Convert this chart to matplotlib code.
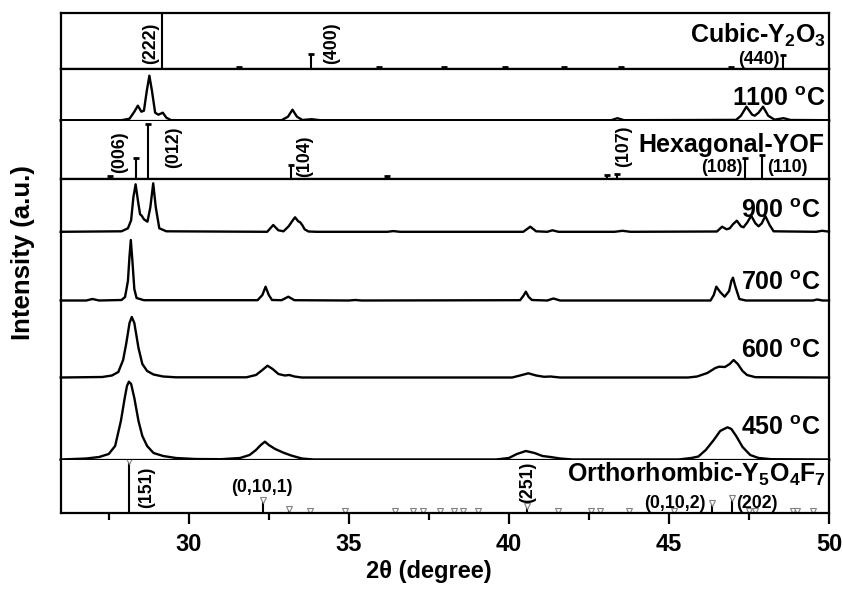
import numpy as np
import matplotlib
matplotlib.use("Agg")
import matplotlib.pyplot as plt

plt.rcParams['font.family'] = ['Liberation Sans', 'DejaVu Sans']
plt.rcParams['font.weight'] = 'bold'
plt.rcParams['mathtext.fontset'] = 'custom'
plt.rcParams['mathtext.rm'] = 'Liberation Sans:bold'
plt.rcParams['mathtext.it'] = 'Liberation Sans:bold'
plt.rcParams['mathtext.bf'] = 'Liberation Sans:bold'

# ---- measured patterns (2theta, intensity a.u.) ----
tt_1100 = [26.0, 27.9, 28.15, 28.3, 28.41, 28.52, 28.6, 28.69, 28.77, 28.85, 28.95, 29.05, 29.19, 29.3, 29.45,
           32.9, 33.1, 33.24, 33.38, 33.55, 33.84, 34.1, 43.2, 43.39, 43.6, 47.1, 47.25, 47.42, 47.6, 47.68,
           47.8, 47.94, 48.1, 48.3, 48.58, 48.8, 50.0]
I_1100 = [0.5, 0.5, 2, 9, 15, 9, 10, 30, 45, 30, 8, 6, 8, 3, 0.5,
          0.5, 4, 11, 4, 0.7, 1.5, 0.5, 0.5, 2.5, 0.5, 0.8, 5, 14, 6, 5,
          8, 14, 5, 1, 2.5, 0.7, 0.5]

tt_900 = [26.0, 27.9, 28.1, 28.2, 28.27, 28.34, 28.42, 28.48, 28.53, 28.6, 28.71, 28.8, 28.89, 28.97, 29.08,
          29.3, 32.45, 32.64, 32.8, 32.96, 33.12, 33.25, 33.32, 33.42, 33.48, 33.55, 33.62, 33.74, 34.0,
          36.2, 36.39, 36.6, 40.45, 40.67, 40.85, 41.2, 41.36, 41.55, 43.3, 43.55, 43.8, 46.5, 46.66, 46.8,
          46.9, 47.0, 47.12, 47.25, 47.33, 47.45, 47.57, 47.7, 47.8, 47.9, 48.01, 48.15, 48.27, 49.6, 49.78, 50.0]
I_900 = [0.5, 1, 4, 12, 35, 48, 30, 18, 16.6, 13, 10.6, 25, 49, 25, 4,
         1, 0.5, 7.3, 2, 1, 6, 12, 15, 11, 10, 7, 3, 0.8, 0.5,
         0.5, 1.2, 0.5, 0.5, 5.6, 1, 0.5, 2, 0.5, 0.5, 1.5, 0.5, 0.8, 5.6, 3,
         4, 8, 11.6, 6, 5, 10, 16.6, 9, 6, 9, 16.3, 7, 1, 0.5, 1.5, 0.7]

tt_700 = [26.0, 26.8, 26.99, 27.2, 27.9, 28.01, 28.1, 28.15, 28.19, 28.24, 28.3, 28.37, 28.6, 32.15, 32.3,
          32.4, 32.5, 32.6, 32.9, 33.11, 33.3, 35.0, 35.2, 35.4, 40.35, 40.45, 40.53, 40.62, 40.72, 41.2,
          41.39, 41.6, 46.3, 46.4, 46.48, 46.6, 46.74, 46.88, 46.95, 47.0, 47.07, 47.2, 47.4, 49.5, 49.63,
          49.8, 50.0]
I_700 = [0.5, 0.5, 2, 0.5, 1, 4, 20, 45, 61, 40, 12, 3, 0.8, 0.8, 6,
         14.3, 6, 1, 0.8, 4.3, 0.8, 0.5, 1, 0.5, 0.8, 5, 9.3, 4, 1, 0.5,
         2.5, 0.5, 0.5, 6, 14.3, 9, 4.3, 10, 20, 23.3, 15, 2, 0.5, 0.5, 1.5,
         0.5, 0.5]

tt_600 = [26.0, 27.3, 27.6, 27.8, 27.95, 28.05, 28.15, 28.22, 28.3, 28.43, 28.55, 28.7, 28.9, 29.2, 29.6,
          31.8, 32.1, 32.3, 32.46, 32.62, 32.8, 33.0, 33.14, 33.3, 33.53, 33.9, 40.1, 40.35, 40.61, 40.85,
          41.1, 41.3, 41.6, 45.6, 45.88, 46.2, 46.45, 46.57, 46.75, 46.9, 47.02, 47.15, 47.3, 47.44, 47.7, 50.0]
I_600 = [0.5, 1, 2.5, 6, 18, 35, 55, 61, 55, 30, 14, 7, 3.5, 1.5, 0.7,
         0.7, 3, 8, 12.3, 9, 4, 2.5, 3, 1.5, 0.5, 0.5, 0.5, 2.5, 4.7, 2.5,
         1.2, 1.5, 0.5, 0.5, 1.5, 5, 10, 11.3, 11, 14, 18, 14, 7, 3, 0.8, 0.5]

tt_450 = [26.0, 26.8, 27.2, 27.5, 27.7, 27.88, 28.0, 28.07, 28.13, 28.2, 28.3, 28.43, 28.55, 28.7, 28.9,
          29.2, 29.6, 30.2, 31.0, 31.6, 31.9, 32.1, 32.25, 32.38, 32.5, 32.7, 32.96, 33.2, 33.53, 33.9,
          39.6, 40.0, 40.25, 40.53, 40.8, 41.05, 41.3, 41.6, 42.0, 45.3, 45.7, 45.92, 46.15, 46.4, 46.6,
          46.72, 46.83, 46.95, 47.1, 47.3, 47.54, 47.8, 48.2, 50.0]
I_450 = [0.5, 1.5, 3, 6, 14, 39, 62, 74, 78.3, 76, 62, 39, 24, 14, 7,
         4, 2, 1, 0.8, 2, 5, 10, 15, 18.3, 15, 11, 7.3, 4.5, 1.5, 0.5,
         0.5, 2, 6, 9, 7, 4, 3, 1.5, 0.5, 0.5, 2, 3.5, 10, 20, 29,
         31, 32.7, 31, 24, 13, 5, 2, 0.8, 0.5]

# vertical offsets of the stacked patterns in the main panel
offsets = {'900': 227.7, '700': 159, '600': 82, '450': 0}

# ---- reference patterns ----
cubic_pos = [29.17, 31.56, 33.81, 35.93, 37.96, 39.88, 41.73, 43.51, 46.94, 48.56]
cubic_int = [56, 2, 15, 2, 2, 2, 2, 2, 2, 14]

hex_pos = [27.54, 28.34, 28.74, 33.2, 36.2, 43.06, 43.38, 47.38, 47.9]
hex_int = [3, 21, 55, 14, 3, 4, 5, 21, 24]

ortho_pos = [28.12, 32.32, 33.14, 33.79, 34.88, 36.45, 37.02, 37.33, 37.85, 38.3, 38.58, 39.02, 40.56,
             41.52, 42.57, 42.85, 43.74, 45.15, 46.36, 46.97, 47.49, 47.7, 48.89, 49.0, 49.5]
ortho_int = [52, 13, 4, 2, 2, 2, 2, 2, 2, 2, 2, 2, 7,
             2, 2, 2, 2, 2, 10, 15, 2, 2, 2, 2, 2]

W_PX, H_PX = 843, 589
L_PX, R_PX = 60.7, 829
fig = plt.figure(figsize=(W_PX / 100, H_PX / 100), dpi=100)


def panel(top, bot):
    ax = fig.add_axes([L_PX / W_PX, 1 - bot / H_PX, (R_PX - L_PX) / W_PX, (bot - top) / H_PX])
    ax.set_xlim(26, 50)
    ax.set_ylim(0, bot - top)
    ax.tick_params(left=False, bottom=False, labelleft=False, labelbottom=False)
    for s in ax.spines.values():
        s.set_linewidth(1.6)
    return ax


ax_cub = panel(13.3, 69.3)
ax_1100 = panel(69.3, 120.7)
ax_hex = panel(120.7, 179.3)
ax_main = panel(179.3, 460)
ax_ort = panel(460, 513.3)
ax_hex.spines['top'].set_visible(False)
ax_ort.spines['top'].set_visible(False)

lw = 1.7
lab = dict(fontsize=18, fontweight='bold', ha='right', va='baseline')
ann = dict(fontsize=12.8, fontweight='bold')

# cubic Y2O3
ax_cub.vlines(cubic_pos, 0, cubic_int, color='k', lw=1.5)
ax_cub.plot(cubic_pos[1:], cubic_int[1:], ls='none', marker='_', ms=4, mew=2, color='k')
ax_cub.text(49.9, 26.6, r'Cubic-Y$_2$O$_3$', **lab)
ax_cub.text(28.81, 25.8, '(222)', rotation=90, ha='center', va='center', **ann)
ax_cub.text(34.47, 26.3, '(400)', rotation=90, ha='center', va='center', **ann)
ax_cub.text(47.8, 5.0, '(440)', ha='center', va='baseline', **ann)

# 1100 C
ax_1100.plot(tt_1100, I_1100, color='k', lw=lw, clip_on=False)
ax_1100.text(49.88, 15, r'1100 $^{\mathrm{o}}$C', **lab)

# hexagonal YOF
ax_hex.vlines(hex_pos, 0, hex_int, color='k', lw=1.5)
ax_hex.plot(hex_pos, hex_int, ls='none', marker='_', ms=4, mew=2, color='k')
ax_hex.text(49.85, 27.6, 'Hexagonal-YOF', **lab)
ax_hex.text(27.85, 27.6, '(006)', rotation=90, ha='center', va='center', **ann)
ax_hex.text(29.52, 32.3, '(012)', rotation=90, ha='center', va='center', **ann)
ax_hex.text(33.63, 23.3, '(104)', rotation=90, ha='center', va='center', **ann)
ax_hex.text(43.58, 33.3, '(107)', rotation=90, ha='center', va='center', **ann)
ax_hex.text(46.66, 7.0, '(108)', ha='center', va='baseline', **ann)
ax_hex.text(48.69, 7.0, '(110)', ha='center', va='baseline', **ann)

# main stacked patterns
for key, tt, inten in [('900', tt_900, I_900), ('700', tt_700, I_700),
                       ('600', tt_600, I_600), ('450', tt_450, I_450)]:
    ax_main.plot(tt, np.array(inten) + offsets[key], color='k', lw=lw, clip_on=False)
ax_main.text(49.75, 241.7, r'900 $^{\mathrm{o}}$C', **lab)
ax_main.text(49.75, 170, r'700 $^{\mathrm{o}}$C', **lab)
ax_main.text(49.75, 101.7, r'600 $^{\mathrm{o}}$C', **lab)
ax_main.text(49.75, 25, r'450 $^{\mathrm{o}}$C', **lab)

# orthorhombic Y5O4F7
ax_ort.vlines(ortho_pos, 0, ortho_int, color='k', lw=1.5)
ax_ort.plot(ortho_pos, ortho_int, ls='none', marker='v', ms=4, mfc='white', mec='gray', mew=0.8)
ax_ort.text(49.9, 31, r'Orthorhombic-Y$_5$O$_4$F$_7$', **lab)
ax_ort.text(28.69, 25.8, '(151)', rotation=90, ha='center', va='center', **ann)
ax_ort.text(32.28, 21, '(0,10,1)', ha='center', va='baseline', **ann)
ax_ort.text(40.58, 30.8, '(251)', rotation=90, ha='center', va='center', **ann)
ax_ort.text(45.2, 5, '(0,10,2)', ha='center', va='baseline', **ann)
ax_ort.text(47.75, 5, '(202)', ha='center', va='baseline', **ann)

ax_ort.tick_params(bottom=True, labelbottom=True, direction='out', length=8, width=1.6,
                   labelsize=17, pad=6)
ax_ort.tick_params(which='minor', bottom=True, length=5, width=1.6)
ax_ort.set_xticks([30, 35, 40, 45, 50])
ax_ort.set_xticks([27.5, 32.5, 37.5, 42.5, 47.5], minor=True)
for t in ax_ort.get_xticklabels():
    t.set_fontweight('bold')
ax_ort.set_xlabel('2θ (degree)', fontsize=17, fontweight='bold')
ax_ort.xaxis.set_label_coords(0.479, -0.88)

fig.text(23 / W_PX, 1 - 253 / H_PX, 'Intensity (a.u.)', rotation=90, ha='center', va='center',
         fontsize=18.5, fontweight='bold')

fig.savefig('out.png', dpi=100)
